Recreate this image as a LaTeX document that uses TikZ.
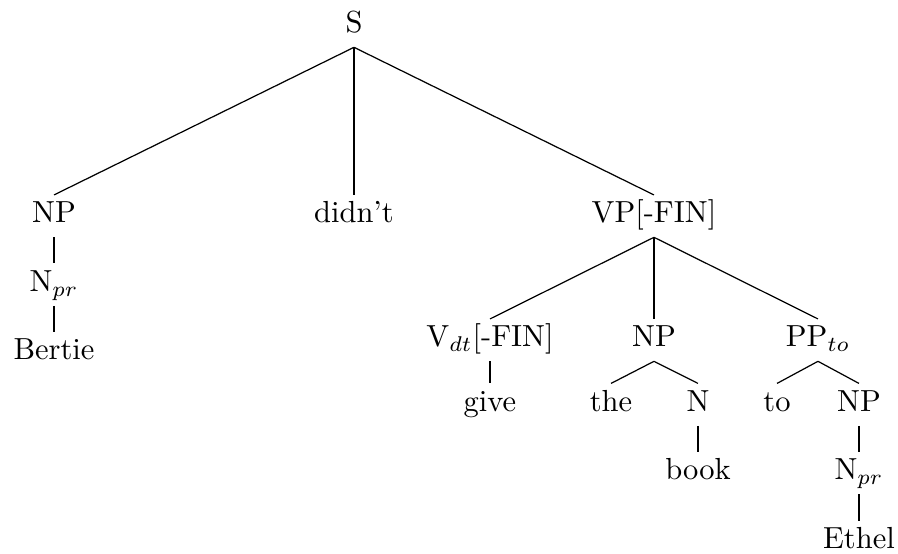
\documentclass[tikz,border=0pt]{standalone}
\begin{document}
\begin{tikzpicture}[x=0.328pt,y=-0.328pt,
  tn/.style={anchor=base,text height=7pt,text depth=2.5pt,inner sep=2pt},
  br/.style={line width=0.4pt}]
\useasboundingbox (0,0) rectangle (898,554);
\node[tn] (S) at (354,33) {S};
\node[tn] (NP1) at (54,223) {NP};
\node[tn] (did) at (354,223) {didn't};
\node[tn] (VP) at (654,223) {VP[-FIN]};
\node[tn] (Npr1) at (54,291.5) {N$_{pr}$};
\node[tn] (Bertie) at (54,360) {Bertie};
\node[tn] (V) at (490,347) {V$_{dt}$[-FIN]};
\node[tn] (NP2) at (654,347) {NP};
\node[tn] (PP) at (818,347) {PP$_{to}$};
\node[tn] (give) at (490,411.5) {give};
\node[tn] (the) at (611,411.5) {the};
\node[tn] (N) at (698,411.5) {N};
\node[tn] (to) at (777,411.5) {to};
\node[tn] (NP3) at (859,411.5) {NP};
\node[tn] (book) at (698,480) {book};
\node[tn] (Npr2) at (859,480) {N$_{pr}$};
\node[tn] (Ethel) at (859,549) {Ethel};
\draw[br] (S.south) -- (NP1.north);
\draw[br] (S.south) -- (did.north);
\draw[br] (S.south) -- (VP.north);
\draw[br] (NP1.south) -- (Npr1.north);
\draw[br] (Npr1.south) -- (Bertie.north);
\draw[br] (VP.south) -- (V.north);
\draw[br] (VP.south) -- (NP2.north);
\draw[br] (VP.south) -- (PP.north);
\draw[br] (V.south) -- (give.north);
\draw[br] (NP2.south) -- (the.north);
\draw[br] (NP2.south) -- (N.north);
\draw[br] (N.south) -- (book.north);
\draw[br] (PP.south) -- (to.north);
\draw[br] (PP.south) -- (NP3.north);
\draw[br] (NP3.south) -- (Npr2.north);
\draw[br] (Npr2.south) -- (Ethel.north);
\end{tikzpicture}
\end{document}
